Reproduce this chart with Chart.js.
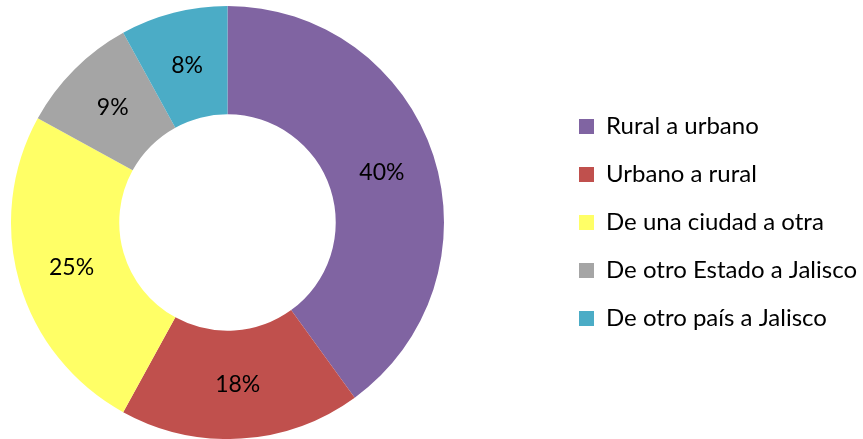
<!DOCTYPE html>
<html>
<head>
<meta charset="utf-8">
<script src="https://cdn.jsdelivr.net/npm/chart.js@4/dist/chart.umd.min.js"></script>
<style>
html,body{margin:0;padding:0;background:#fff;}
#wrap{width:863px;height:439px;position:relative;}
</style>
</head>
<body>
<div id="wrap"><canvas id="c" width="863" height="439"></canvas></div>
<script>
const categories = ["Rural a urbano", "Urbano a rural", "De una ciudad a otra", "De otro Estado a Jalisco", "De otro país a Jalisco"];
const values = [40, 18, 25, 9, 8];
const colors = ["#8064A2", "#C0504D", "#FFFF66", "#A5A5A5", "#4BACC6"];

const sliceLabels = {
  id: 'sliceLabels',
  afterDatasetsDraw(chart) {
    const ctx = chart.ctx;
    const meta = chart.getDatasetMeta(0);
    const data = chart.data.datasets[0].data;
    const total = data.reduce((a, b) => a + b, 0);
    ctx.save();
    ctx.font = '23px Lato';
    ctx.fillStyle = '#000';
    ctx.textAlign = 'center';
    ctx.textBaseline = 'middle';
    meta.data.forEach((arc, i) => {
      const p = arc.tooltipPosition();
      ctx.fillText(Math.round(data[i] / total * 100) + '%', p.x, p.y);
    });
    ctx.restore();
  }
};

const legendShift = {
  id: 'legendShift',
  afterLayout(chart) {
    const lg = chart.legend;
    const dx = 555 - lg.left;
    lg.left += dx;
    lg.right += dx;
  }
};

new Chart(document.getElementById('c'), {
  type: 'doughnut',
  data: {
    labels: categories,
    datasets: [{
      data: values,
      backgroundColor: colors,
      borderWidth: 0
    }]
  },
  options: {
    responsive: false,
    animation: false,
    cutout: '50%',
    layout: { padding: { left: 11, top: 6, bottom: 0, right: 107 } },
    plugins: {
      tooltip: { enabled: false },
      legend: {
        position: 'right',
        labels: {
          boxWidth: 15,
          boxHeight: 15,
          padding: 24,
          color: '#000',
          font: { family: 'Lato', size: 24 }
        }
      }
    }
  },
  plugins: [sliceLabels, legendShift]
});
</script>
</body>
</html>
